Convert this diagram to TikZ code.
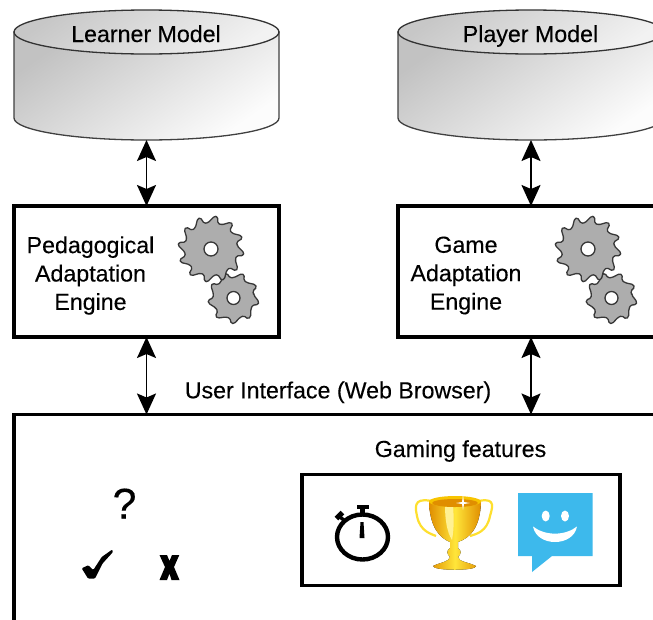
\documentclass[tikz,border=0pt]{standalone}
\usepackage{fontspec}
\setmainfont[FakeBold=0.25]{Liberation Sans}
\usetikzlibrary{arrows.meta}
\definecolor{gold}{HTML}{F8C400}
\definecolor{goldlt}{HTML}{FFE63A}
\definecolor{golddk}{HTML}{E08E00}
\definecolor{bubble}{HTML}{3DB9EC}
\tikzset{
  lbl/.style={font=\fontsize{23.2}{23.2}\selectfont,inner sep=0pt,align=center,text=black},
  base/.style={lbl,anchor=base},
  boxed/.style={draw=black,line width=3.4pt,fill=white,inner sep=0pt,outer sep=0pt},
  ghost/.style={inner sep=0pt,outer sep=0pt},
  link/.style={line width=1.8pt,{Stealth[length=21pt,width=19pt,inset=4pt]}-{Stealth[length=21pt,width=19pt,inset=4pt]}},
  cyl/.style={draw=black!75,line width=1.3pt,left color=black!24,right color=black!1,shading angle=35},
  cyltop/.style={draw=black!80,line width=1.3pt,left color=black!22,right color=black!5,shading angle=35},
  gearstyle/.style={draw=black!78,line width=1.3pt,fill=black!32,even odd rule,rounded corners=1.4pt}
}
\newcommand{\gearshape}[6]{%
  \draw[gearstyle,shift={(#1,#2)}] (-.2*360/#5:#4)
    \foreach \i [evaluate=\i as \a using \i*360/#5] in {1,...,#5}{
      -- (\a-.8*360/#5:#3)
      -- (\a-.62*360/#5:#3)
      -- (\a-.5*360/#5:#4)
      -- (\a-.2*360/#5:#4)
    } -- cycle (0,0) circle[radius=#6];
}
\newcommand{\cylshape}[3]{% left, right, centre x
  \path[cyl] (#1,32) -- (#1,118) arc[x radius=({(#2-#1)/2}),y radius=22,start angle=180,end angle=0] -- (#2,32) -- cycle;
  \path[cyltop] (#3,32) ellipse[x radius=({(#2-#1)/2}),y radius=22];
}
\begin{document}
\begin{tikzpicture}[x=1pt,y=-1pt]
\useasboundingbox (0,0) rectangle (653,619);
\clip (0,0) rectangle (653,619);
\fill[white] (0,0) rectangle (653,619);

% databases
\cylshape{14}{279}{146.5}
\cylshape{398}{664}{531}
\node[ghost,minimum width=265pt,minimum height=130pt] (lm) at (146.5,75) {};
\node[ghost,minimum width=266pt,minimum height=130pt] (pm) at (531,75) {};
\node[base] (lmt) at (146,42) {Learner Model};
\node[base] (pmt) at (530.5,42) {Player Model};

% engines
\node[boxed,minimum width=265pt,minimum height=131pt] (pae) at (146.5,271.5) {};
\node[boxed,minimum width=266pt,minimum height=131pt] (gae) at (531,271.5) {};
\node[lbl,text width=160pt,execute at begin node={\baselineskip=28.4pt}] (paet) at (90.5,275.5) {Pedagogical\\Adaptation\\Engine};
\node[lbl,text width=160pt,execute at begin node={\baselineskip=28.4pt}] (gaet) at (466,275.5) {Game\\Adaptation\\Engine};

\gearshape{233.5}{298}{25.5}{20.5}{9}{6.5}
\gearshape{211}{249}{33}{26.5}{12}{7}
\gearshape{611.5}{298}{25.5}{20.5}{9}{6.5}
\gearshape{588}{249}{33}{26.5}{12}{7}

% user interface
\node[boxed,minimum width=700pt,minimum height=300pt] (ui) at (364,564.5) {};
\node[base] (uit) at (338,398.3) {User Interface (Web Browser)};
\node[base] (gft) at (460.5,457) {Gaming features};
\node[boxed,minimum width=318pt,minimum height=111pt] (gf) at (461,530) {};

% connectors
\draw[link] (lm.south) -- (pae.north);
\draw[link] (pm.south) -- (gae.north);
\draw[link] (pae.south) -- (pae.south |- ui.north);
\draw[link] (gae.south) -- (gae.south |- ui.north);

% quiz marks
\node[lbl,font=\fontsize{43}{43}\selectfont] (q) at (124.5,503.5) {?};
\fill[black,rounded corners=1pt] (81.7,568.3) -- (88.3,565.2) -- (93.3,570) -- (101.7,557) -- (112.3,549.5) -- (113,552) -- (102.7,563.3) -- (95,578.5) -- (88,578.5) -- cycle;
\fill[black] (159.5,555) -- (167,555) -- (169.5,561) -- (172,555) -- (179.3,555) -- (174,567) -- (179.5,580) -- (171.5,580) -- (169.5,573.5) -- (167,580) -- (159.5,580) -- (165,567) -- cycle;

% stopwatch
\draw[black,line width=4.4pt] (362.5,537) ellipse[x radius=25.5,y radius=22.5];
\fill[black] (357,505) rectangle (368.5,509);
\fill[black] (360,508) rectangle (365,514);
\draw[black,line width=3.5pt] (340,517) -- (345,521);
\draw[black,line width=5pt] (336.5,518.5) -- (342.5,512.5);
\fill[black] (359.5,538) -- (360.5,522) -- (363.5,522) -- (364.5,538) -- cycle;

% trophy
\draw[goldlt!80!gold,line width=2.2pt] (436,502) .. controls (416,497) and (414,503) .. (417,516) .. controls (420,532) and (432,534) .. (436,536);
\draw[goldlt!80!gold,line width=2.2pt] (474,502) .. controls (494,497) and (494,503) .. (490,516) .. controls (487,532) and (476,534) .. (470,536);
\fill[left color=golddk,right color=golddk,middle color=goldlt] (429,502) .. controls (430,528) and (440,538) .. (450,542) -- (450,548) .. controls (446,551) and (447,554) .. (450,557) .. controls (449,562) and (441,562) .. (433,566) .. controls (433,571) and (477,571) .. (476,566) .. controls (468,562) and (459,562) .. (458,557) .. controls (461,554) and (462,551) .. (458,548) -- (458,542) .. controls (470,538) and (480,528) .. (481,502) -- cycle;
\fill[goldlt!55!white] (445,505) .. controls (445,520) and (447,532) .. (452,540) .. controls (454,530) and (454,518) .. (453,505) -- cycle;
\fill[gold] (455,501.5) ellipse[x radius=26,y radius=5.5];
\fill[golddk] (455,503) ellipse[x radius=23,y radius=4];
\fill[white] (463,495.5) -- (464,502) -- (470,503) -- (464,504) -- (463,510) -- (462,504) -- (456,503) -- (462,502) -- cycle;

% chat bubble
\fill[bubble] (518,493) -- (592.5,493) -- (592.5,556) -- (552,556) -- (532,572) -- (532,556) -- (518,556) -- cycle;
\fill[white] (545.7,516) ellipse[x radius=4,y radius=5.5];
\fill[white] (565,516) ellipse[x radius=4,y radius=5.5];
\fill[white] (533,526.5) .. controls (545,536) and (565,536) .. (577,526.5) .. controls (575,537) and (565,542) .. (555,542) .. controls (545,542) and (535,537) .. (533,526.5) -- cycle;
\end{tikzpicture}
\end{document}
